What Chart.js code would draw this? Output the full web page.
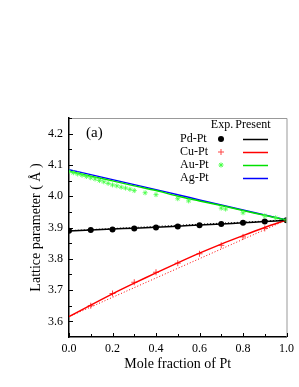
<!DOCTYPE html>
<html>
<head>
<meta charset="utf-8">
<script src="https://cdn.jsdelivr.net/npm/chart.js@4.4.0/dist/chart.umd.min.js"></script>
<style>
  html, body { margin: 0; padding: 0; background: #fff; }
  #wrap { width: 299px; height: 387px; }
</style>
</head>
<body>
<div id="wrap"><canvas id="latticeChart" width="299" height="387"></canvas></div>
<script>
// --- Data ---
const xTicks = [0.0, 0.2, 0.4, 0.6, 0.8, 1.0];
const yTicks = [3.6, 3.7, 3.8, 3.9, 4.0, 4.1, 4.2];

const xComp = [0.0, 0.1, 0.2, 0.3, 0.4, 0.5, 0.6, 0.7, 0.8, 0.9, 1.0];

// experimental points
const pdPtExp = [3.890, 3.892, 3.894, 3.897, 3.900, 3.903, 3.907, 3.911, 3.915, 3.919, 3.923];
const cuPtExpX = [0.1, 0.2, 0.3, 0.4, 0.5, 0.6, 0.7, 0.8, 0.9];
const cuPtExp = [3.650, 3.689, 3.725, 3.757, 3.786, 3.816, 3.843, 3.870, 3.897];
const auPtExpX = [0.0, 0.02, 0.04, 0.06, 0.08, 0.1, 0.12, 0.14, 0.16, 0.18, 0.2, 0.22, 0.24,
                  0.26, 0.28, 0.3, 0.35, 0.4, 0.5, 0.55, 0.7, 0.72, 0.8, 0.9, 0.95, 1.0];
const auPtExp = [4.079, 4.075, 4.071, 4.067, 4.063, 4.059, 4.055, 4.050, 4.046, 4.041, 4.036, 4.033, 4.029,
                 4.026, 4.022, 4.018, 4.011, 4.005, 3.992, 3.985, 3.962, 3.959, 3.947, 3.937, 3.931, 3.924];

// present calculation
const pdPtCalc = [3.889, 3.892, 3.895, 3.898, 3.901, 3.904, 3.908, 3.911, 3.915, 3.919, 3.923];
const cuPtCalc = [3.615, 3.652, 3.688, 3.722, 3.755, 3.787, 3.818, 3.847, 3.874, 3.900, 3.924];
const auPtCalc = [4.080, 4.064, 4.049, 4.033, 4.018, 4.000, 3.985, 3.970, 3.954, 3.939, 3.924];
const agPtCalc = [4.085, 4.069, 4.053, 4.037, 4.021, 4.005, 3.988, 3.972, 3.956, 3.940, 3.924];

// dotted straight lines (end members)
const endX = [0.0, 1.0];
const pdPtLinear = [3.890, 3.924];
const cuPtLinear = [3.615, 3.924];

const systems = ['Pd-Pt', 'Cu-Pt', 'Au-Pt', 'Ag-Pt'];
const colors = ['#000000', '#ff0000', '#00e000', '#0000ff'];
const starColor = '#44ff44';

const pts = (xs, ys) => xs.map((x, i) => ({ x: x, y: ys[i] }));

const SERIF = '"Liberation Serif", "Times New Roman", serif';

// --- Inner ticks, frame, legend and label ---
const framePlugin = {
  id: 'frame',
  afterDraw(chart) {
    const ctx = chart.ctx;
    const a = chart.chartArea;
    const xs = chart.scales.x, ys = chart.scales.y;
    ctx.save();
    // gray top / right frame
    ctx.strokeStyle = '#999';
    ctx.lineWidth = 1;
    ctx.beginPath();
    ctx.moveTo(a.left, a.top + 0.5);
    ctx.lineTo(a.right + 0.5, a.top + 0.5);
    ctx.lineTo(a.right + 0.5, a.bottom);
    ctx.stroke();

    // inner ticks
    ctx.strokeStyle = '#000';
    for (let v = 0; v <= 10; v++) {
      const px = Math.round(xs.getPixelForValue(v / 10)) + 0.5;
      ctx.beginPath();
      ctx.moveTo(px, a.bottom);
      ctx.lineTo(px, a.bottom - (v % 2 === 0 ? 4 : 3));
      ctx.stroke();
    }
    for (let v = 36; v <= 42; v++) {
      [v / 10, v / 10 + 0.05].forEach((val, k) => {
        if (val > ys.max) return;
        const py = Math.round(ys.getPixelForValue(val)) + 0.5;
        ctx.beginPath();
        ctx.moveTo(a.left, py);
        ctx.lineTo(a.left + (k === 0 ? 4 : 3), py);
        ctx.stroke();
      });
    }

    // (a)
    ctx.fillStyle = '#000';
    ctx.font = '15px ' + SERIF;
    ctx.textAlign = 'left';
    ctx.textBaseline = 'middle';
    ctx.fillText('(a)', 86, 133);

    // legend
    ctx.font = '12px ' + SERIF;
    ctx.textAlign = 'center';
    ctx.fillText('Exp.', 222, 125);
    ctx.fillText('Present', 253, 125);
    const rows = [139, 152, 165, 178];
    systems.forEach((name, i) => {
      const y = rows[i];
      ctx.fillStyle = '#000';
      ctx.textAlign = 'left';
      ctx.fillText(name, 180, y);
      ctx.strokeStyle = colors[i];
      ctx.lineWidth = 1.5;
      ctx.beginPath();
      ctx.moveTo(243, y + 0.5);
      ctx.lineTo(268, y + 0.5);
      ctx.stroke();
    });
    // legend markers
    ctx.fillStyle = '#000';
    ctx.beginPath();
    ctx.arc(221, rows[0], 3, 0, Math.PI * 2);
    ctx.fill();
    ctx.lineWidth = 1;
    ctx.strokeStyle = '#ff4444';
    ctx.fillStyle = 'rgba(0,0,0,0)';
    Chart.helpers.drawPoint(ctx, { pointStyle: 'cross', radius: 3, borderWidth: 1 }, 221, rows[1]);
    ctx.strokeStyle = starColor;
    Chart.helpers.drawPoint(ctx, { pointStyle: 'star', radius: 2.5, borderWidth: 1 }, 221, rows[2]);
    ctx.restore();
  }
};

const lineDs = (label, xs, ys, color, dash) => ({
  label: label,
  data: pts(xs, ys),
  showLine: true,
  borderColor: color,
  borderWidth: dash ? 1 : 1.5,
  borderDash: dash ? [1, 2] : [],
  pointRadius: 0,
  tension: 0.3,
  fill: false
});

new Chart(document.getElementById('latticeChart'), {
  type: 'scatter',
  data: {
    datasets: [
      lineDs('Pd-Pt linear', endX, pdPtLinear, '#000', true),
      lineDs('Cu-Pt linear', endX, cuPtLinear, '#ff0000', true),
      {
        label: 'Au-Pt Exp.',
        data: pts(auPtExpX, auPtExp),
        pointStyle: 'star',
        pointRadius: 2.5,
        backgroundColor: 'rgba(0,0,0,0)',
        borderColor: starColor,
        borderWidth: 0.8
      },
      lineDs('Au-Pt Present', xComp, auPtCalc, colors[2], false),
      lineDs('Ag-Pt Present', xComp, agPtCalc, colors[3], false),
      lineDs('Pd-Pt Present', xComp, pdPtCalc, colors[0], false),
      lineDs('Cu-Pt Present', xComp, cuPtCalc, colors[1], false),
      {
        label: 'Pd-Pt Exp.',
        data: pts(xComp, pdPtExp),
        pointStyle: 'circle',
        pointRadius: 3,
        backgroundColor: '#000',
        borderColor: '#000',
        borderWidth: 0
      },
      {
        label: 'Cu-Pt Exp.',
        data: pts(cuPtExpX, cuPtExp),
        pointStyle: 'cross',
        pointRadius: 3,
        borderColor: '#ff4444',
        borderWidth: 1
      }
    ]
  },
  options: {
    responsive: false,
    animation: false,
    layout: { padding: { top: 118, right: 11, left: 28, bottom: 14 } },
    plugins: {
      legend: { display: false },
      tooltip: { enabled: false }
    },
    scales: {
      x: {
        type: 'linear',
        min: 0,
        max: 1,
        afterBuildTicks: s => { s.ticks = xTicks.map(v => ({ value: v })); },
        afterFit: s => { s.height = 36; },
        grid: { display: false, drawTicks: false },
        border: { display: true, color: '#000', width: 1.5 },
        ticks: {
          padding: 5,
          color: '#000',
          font: { family: SERIF, size: 12 },
          callback: v => v.toFixed(1)
        },
        title: {
          display: true,
          text: 'Mole fraction of Pt',
          color: '#000',
          font: { family: SERIF, size: 14 },
          padding: { top: 4, bottom: 0 }
        }
      },
      y: {
        type: 'linear',
        min: 3.55,
        max: 4.25,
        afterBuildTicks: s => { s.ticks = yTicks.map(v => ({ value: v })); },
        afterFit: s => { s.width = 41; },
        grid: { display: false, drawTicks: false },
        border: { display: true, color: '#000', width: 1.5 },
        ticks: {
          padding: 6,
          color: '#000',
          font: { family: SERIF, size: 12 },
          callback: v => v.toFixed(1)
        },
        title: {
          display: true,
          text: 'Lattice parameter ( Å )',
          color: '#000',
          font: { family: SERIF, size: 14 },
          padding: { top: 0, bottom: 2 }
        }
      }
    }
  },
  plugins: [framePlugin]
});
</script>
</body>
</html>
